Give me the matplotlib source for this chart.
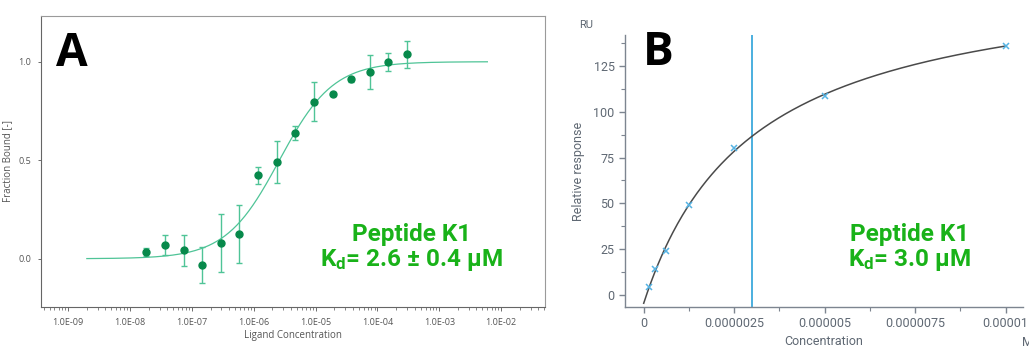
import numpy as np
import matplotlib
matplotlib.use("Agg")
import matplotlib.pyplot as plt
from matplotlib.ticker import LogLocator, FixedLocator, NullFormatter, MultipleLocator

plt.rcParams['mathtext.fontset'] = 'custom'
plt.rcParams['mathtext.rm'] = 'Roboto:bold'
plt.rcParams['mathtext.it'] = 'Roboto:bold'
plt.rcParams['mathtext.bf'] = 'Roboto:bold'

# panel A: MST binding, fraction bound vs ligand concentration (M)
conc_a = [1.83e-8, 3.66e-8, 7.32e-8, 1.46e-7, 2.93e-7, 5.86e-7, 1.17e-6, 2.34e-6,
          4.69e-6, 9.38e-6, 1.88e-5, 3.75e-5, 7.5e-5, 1.5e-4, 3.0e-4]
frac_a = [0.036, 0.068, 0.042, -0.032, 0.081, 0.127, 0.423, 0.489,
          0.640, 0.797, 0.836, 0.910, 0.949, 1.000, 1.037]
err_a = [0.02, 0.05, 0.08, 0.09, 0.147, 0.148, 0.042, 0.107,
         0.036, 0.099, 0.01, 0.012, 0.085, 0.045, 0.069]
kd_a = 2.6e-6
xticks_a = [1e-9, 1e-8, 1e-7, 1e-6, 1e-5, 1e-4, 1e-3, 1e-2]
xlabels_a = ["1.0E-09", "1.0E-08", "1.0E-07", "1.0E-06", "1.0E-05", "1.0E-04", "1.0E-03", "1.0E-02"]

# panel B: SPR steady state, relative response vs concentration (M)
conc_b = [1.5e-7, 3.1e-7, 6.2e-7, 1.25e-6, 2.5e-6, 5.0e-6, 1.0e-5]
resp_b = [4.2, 14.4, 24.2, 49.3, 80.4, 108.6, 135.9]
kd_b = 3.0e-6
rmax_b = 182.5
offset_b = -4.5
xticks_b = [0, 2.5e-6, 5e-6, 7.5e-6, 1e-5]
xlabels_b = ["0", "0.0000025", "0.000005", "0.0000075", "0.00001"]
yticks_b = [0, 25, 50, 75, 100, 125]

green_txt = "#19b219"
dot_col = "#07894b"
fit_col = "#4fc497"

fig = plt.figure(figsize=(10.29, 3.47), dpi=100)

# ---- A ----
axA = fig.add_axes([41/1029, 40/347, 504/1029, 291/347])
xs = np.logspace(np.log10(2e-9), np.log10(6e-3), 300)
axA.plot(xs, xs / (kd_a + xs), color=fit_col, lw=0.9)
axA.errorbar(conc_a, frac_a, yerr=err_a, fmt='o', color=dot_col, ms=5,
             ecolor=fit_col, elinewidth=1.0, capsize=2.2, capthick=1.0)
axA.set_xscale('log')
axA.set_xlim(10**-9.44, 10**-1.29)
axA.set_ylim(-0.245, 1.232)
axA.xaxis.set_major_locator(FixedLocator(xticks_a))
axA.set_xticklabels(xlabels_a)
axA.xaxis.set_minor_locator(LogLocator(base=10, subs=np.arange(2, 10), numticks=20))
axA.xaxis.set_minor_formatter(NullFormatter())
axA.set_yticks([0.0, 0.5, 1.0])
axA.set_yticklabels(["0.0", "0.5", "1.0"])
for s in axA.spines.values():
    s.set_color("#9a9a9a")
    s.set_linewidth(0.8)
axA.spines['left'].set_color("#666666")
axA.spines['bottom'].set_color("#666666")
axA.tick_params(axis='both', which='major', labelsize=6.5, colors="#555555",
                length=3, width=0.6, pad=5)
axA.tick_params(axis='x', which='minor', length=2, width=0.5, colors="#555555")
axA.tick_params(axis='y', length=2)
for lab in axA.get_xticklabels() + axA.get_yticklabels():
    lab.set_family("Open Sans")
axA.set_xlabel("Ligand Concentration", fontsize=7, color="#555555", family="Open Sans", labelpad=2)
axA.set_ylabel("Fraction Bound [-]", fontsize=7, color="#555555", family="Open Sans", labelpad=4)
fig.text(412/1029, 1 - 241/347, "Peptide K1", ha='center', va='baseline',
         fontsize=17.5, fontweight='bold', family='Roboto', color=green_txt)
fig.text(412/1029, 1 - 266/347, "K$_{\\rm d}$= 2.6 ± 0.4 µM", ha='center', va='baseline',
         fontsize=17.5, fontweight='bold', family='Roboto', color=green_txt)
fig.text(56/1029, 1 - 66/347, "A", fontsize=33, fontweight='bold', family='Open Sans', color='black')

# ---- B ----
axB = fig.add_axes([625/1029, 40/347, 398/1029, 272/347])
cs = np.linspace(0, 1e-5, 300)
axB.plot(cs, offset_b + rmax_b * cs / (kd_b + cs), color="#4a4a4a", lw=1.1, zorder=2)
axB.axvline(kd_b, color="#1a9ad6", lw=1.1, zorder=1)
axB.plot(conc_b, resp_b, 'x', color="#55b3e3", ms=5, mew=1.1, zorder=3)
axB.set_xlim(-0.517e-6, 10.48e-6)
axB.set_ylim(-6.55, 141.9)
axB.set_xticks(xticks_b)
axB.set_xticklabels(xlabels_b)
axB.xaxis.set_minor_locator(MultipleLocator(1.25e-6))
axB.set_yticks(yticks_b)
axB.yaxis.set_minor_locator(MultipleLocator(12.5))
axB.spines['top'].set_visible(False)
axB.spines['right'].set_visible(False)
for s in ['left', 'bottom']:
    axB.spines[s].set_color("#7d8590")
    axB.spines[s].set_linewidth(1.0)
axB.tick_params(axis='both', which='major', labelsize=9, colors="#7d8590",
                labelcolor="#5f6873", length=4, width=1.0)
axB.tick_params(axis='both', which='minor', length=3, width=0.8, colors="#7d8590")
for lab in axB.get_xticklabels() + axB.get_yticklabels():
    lab.set_family("Roboto")
axB.set_xlabel("Concentration", fontsize=9, color="#5f6873", family="Roboto", labelpad=3)
axB.set_ylabel("Relative response", fontsize=9, color="#5f6873", family="Roboto", labelpad=6)
fig.text(586/1029, 1 - 25/347, "RU", fontsize=8, color="#5f6873", family="Roboto", ha='center', va='center')
fig.text(1022/1029, 1 - 342/347, "M", fontsize=9, color="#5f6873", family="Roboto", ha='left', va='center')
fig.text(910/1029, 1 - 241/347, "Peptide K1", ha='center', va='baseline',
         fontsize=17.5, fontweight='bold', family='Roboto', color=green_txt)
fig.text(910/1029, 1 - 266/347, "K$_{\\rm d}$= 3.0 µM", ha='center', va='baseline',
         fontsize=17.5, fontweight='bold', family='Roboto', color=green_txt)
fig.text(643/1029, 1 - 65/347, "B", fontsize=33, fontweight='bold', family='Open Sans', color='black')

fig.savefig("out.png", dpi=100)
